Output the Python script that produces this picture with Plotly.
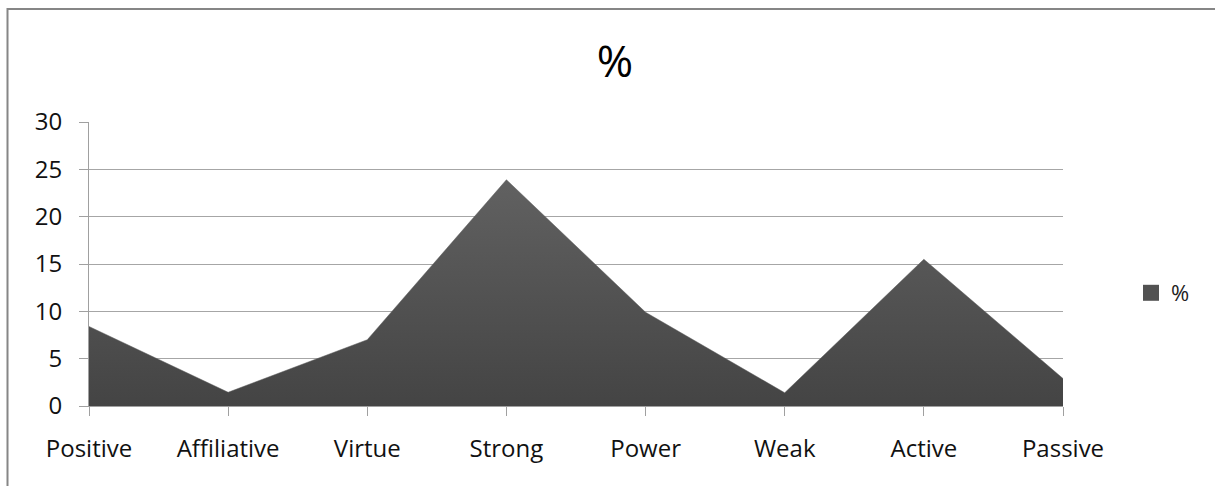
import plotly.graph_objects as go

categories = ["Positive", "Affiliative", "Virtue", "Strong", "Power", "Weak", "Active", "Passive"]
values = [8.4, 1.45, 7.0, 23.9, 9.9, 1.4, 15.5, 2.9]
series_name = "%"
y_ticks = [0, 5, 10, 15, 20, 25, 30]

W, H = 1215, 486
L, R, T, B = 89, 1063, 122, 406

fig = go.Figure()
fig.add_trace(go.Scatter(
    x=categories, y=values, name=series_name, mode="lines",
    line=dict(width=0.5, color="#5a5a5a"),
    fill="tozeroy",
    fillgradient=dict(type="vertical", colorscale=[[0, "#444444"], [1, "#616161"]]),
    showlegend=False,
))
# legend swatch (square), same series name
fig.add_trace(go.Scatter(
    x=[None], y=[None], name=series_name, mode="markers",
    marker=dict(symbol="square", size=16, color="#525252", line=dict(width=0)),
    showlegend=True, hoverinfo="skip",
))

font = "Open Sans, DejaVu Sans, sans-serif"
fs = 24

def px_x(p):
    return (p - L) / (R - L)

def px_y(p):
    return (B - p) / (B - T)

fig.update_layout(
    width=W, height=H,
    margin=dict(l=L, r=W - R, t=T, b=H - B, pad=0),
    paper_bgcolor="white", plot_bgcolor="white",
    font=dict(family=font, size=fs, color="#111111"),
    title=dict(text="%", x=615 / W, xanchor="center", y=1 - 62 / H, yanchor="middle",
               font=dict(size=44, color="#000000", family=font)),
    showlegend=True,
    legend=dict(x=px_x(1131), y=px_y(293), xanchor="left", yanchor="middle",
                font=dict(size=22, color="#222222"), itemwidth=30,
                bgcolor="rgba(0,0,0,0)"),
    xaxis=dict(
        type="category", range=[0, len(categories) - 1],
        showgrid=False, showline=True, linecolor="#a0a0a0", linewidth=1,
        ticks="outside", ticklen=9, tickcolor="#a0a0a0", tickwidth=1,
        ticklabelstandoff=12, tickfont=dict(size=fs, color="#111111"),
        fixedrange=True,
    ),
    yaxis=dict(
        range=[0, 30], tickvals=y_ticks,
        showgrid=True, gridcolor="#a6a6a6", gridwidth=1,
        showline=True, linecolor="#a0a0a0", linewidth=1,
        ticks="outside", ticklen=9, tickcolor="#a0a0a0",
        ticklabelstandoff=12, tickfont=dict(size=fs, color="#111111"),
        zeroline=False,
    ),
    shapes=[
        dict(type="rect", xref="paper", yref="paper",
             x0=px_x(7.5), x1=px_x(1230), y0=px_y(500), y1=px_y(9),
             line=dict(color="#868686", width=2), fillcolor="rgba(0,0,0,0)", layer="below"),
    ],
)

fig.write_html("out.html")
